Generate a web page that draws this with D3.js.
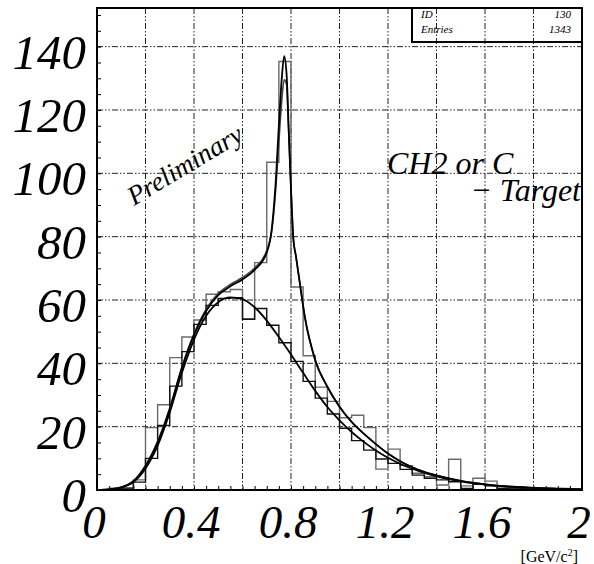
<!DOCTYPE html>
<html><head><meta charset="utf-8">
<script src="https://cdn.jsdelivr.net/npm/d3@7"></script>
<style>body{margin:0;background:#fff}svg{display:block}</style>
</head><body><svg id="c" width="594" height="564"></svg>
<script>
// ---- data ----
const binEdges = [0,0.05,0.1,0.15,0.2,0.25,0.3,0.35,0.4,0.45,0.5,0.55,0.6,0.65,0.7,0.75,0.8,0.85,0.9,0.95,1.0,1.05,1.1,1.15,1.2,1.25,1.3,1.35,1.4,1.45,1.5,1.55,1.6,1.65,1.7,1.75,1.8,1.85,1.9,1.95,2.0];
const grayHist = [0,0.6,0.6,3.2,19.7,26.9,41.8,48.3,53.7,61.8,62.6,63.3,54,71.8,103.5,135.3,64.1,42.4,32.5,28,22.8,23.6,19.7,6.6,12.9,7.7,5.3,4.2,1.6,9.7,1.3,3.7,2.8,0.5,0.3,0.3,0.5,0.3,0.5,0.3];
const blackHist = [0,0.3,0.6,2.5,10,20.4,32.8,43.7,52.3,58.3,60.5,60.7,53.9,57.3,52,46.5,40.6,34.3,29,24,19.5,15.6,12.6,9.8,8.4,6.5,4.7,3.7,3.2,2.6,0.5,1.9,1.3,0.5,0.3,0.3,0.3,0.3,0.3,0.2];

const fitX      = [0,0.05,0.1,0.15,0.2,0.25,0.3,0.35,0.4,0.45,0.5,0.55,0.6,0.65,0.7,0.72,0.735,0.75,0.762,0.772,0.782,0.79,0.8,0.81,0.82,0.837,0.857,0.9,0.95,1.0,1.05,1.1,1.15,1.2,1.25,1.3,1.35,1.4,1.5,1.6,1.7,1.8,1.9,2.0];
const fitTotal  = [0,0.2,0.8,2.7,7.5,15,25.5,38.5,49,56.5,61.5,64.3,66.5,69.5,75,82,95,115,130,137,131,115,95,79,74,65,54.7,41,32.6,26.3,21.5,17.8,14.5,11.5,9.1,7.2,5.7,4.6,2.9,1.8,1.1,0.7,0.4,0.2];
const fitTotal2 = [0,0.2,0.9,2.9,7.8,15.4,25.9,38.8,49.3,57.1,62.1,64.9,67.1,70.1,75.6,81.5,93,110,123,129.5,128,114,95,79,74,65,54.7,41,32.6,26.3,21.5,17.8,14.5,11.5,9.1,7.2,5.7,4.6,2.9,1.8,1.1,0.7,0.4,0.2];
const bgX   = [0,0.05,0.1,0.15,0.2,0.25,0.3,0.35,0.4,0.45,0.5,0.55,0.6,0.65,0.7,0.75,0.8,0.85,0.9,0.95,1.0,1.05,1.1,1.15,1.2,1.25,1.3,1.35,1.4,1.45,1.5,1.55,1.6,1.65,1.7,1.75,1.8,1.85,1.9,1.95,2.0];
const fitBg = [0,0.2,0.8,2.5,6.8,14,24.5,37,47.5,55,59.3,60.8,60.3,57.7,53.5,48.3,42.8,37,31.3,26.2,22,18.3,15.2,12.5,10.2,8.3,6.7,5.4,4.3,3.4,2.7,2.1,1.7,1.3,1.0,0.8,0.6,0.45,0.35,0.25,0.2];

const xTickValues = [0,0.4,0.8,1.2,1.6,2];
const xTickLabels = ["0","0.4","0.8","1.2","1.6","2"];
const yTickValues = [0,20,40,60,80,100,120,140];
const yTickLabels = ["0","20","40","60","80","100","120","140"];
const xGrid = [0.2,0.4,0.6,0.8,1.0,1.2,1.4,1.6,1.8];
const yGrid = [20,40,60,80,100,120,140];
const statsNames = ["ID","Entries"];
const statsValues = ["130","1343"];

// ---- layout ----
const L = 97, R = 582, T = 8, B = 490;
const x = d3.scaleLinear().domain([0,2]).range([L,R]);
const y = d3.scaleLinear().domain([0,152.2]).range([B,T]);
const svg = d3.select("#c");
const serif = "'Liberation Serif','Times New Roman',serif";

svg.append("defs").append("clipPath").attr("id","clip")
  .append("rect").attr("x",L).attr("y",T).attr("width",R-L).attr("height",B-T);

// grid
const gridDash = "6,2,1.5,2,1.5,2";
svg.append("g").selectAll("line").data(xGrid).join("line")
  .attr("x1",d=>x(d)).attr("x2",d=>x(d)).attr("y1",T).attr("y2",B)
  .attr("stroke","#222").attr("stroke-width",1).attr("stroke-dasharray",gridDash);
svg.append("g").selectAll("line").data(yGrid).join("line")
  .attr("x1",L).attr("x2",R).attr("y1",d=>y(d)).attr("y2",d=>y(d))
  .attr("stroke","#222").attr("stroke-width",1).attr("stroke-dasharray",gridDash);

// axes ticks (inside)
const yAxis = d3.axisLeft(y).tickValues(d3.range(0,152,5)).tickSize(-4).tickFormat("");
const gy = svg.append("g").attr("transform",`translate(${L},0)`).call(yAxis);
gy.select(".domain").remove();
gy.selectAll(".tick line").attr("stroke","#000").attr("stroke-width",1);
const xAxis = d3.axisBottom(x).tickValues(d3.range(0,2.001,0.05)).tickSize(-4).tickFormat("");
const gx = svg.append("g").attr("transform",`translate(0,${B})`).call(xAxis);
gx.select(".domain").remove();
gx.selectAll(".tick line").attr("stroke","#000").attr("stroke-width",1);

// histograms
function histPoints(vals){
  const pts = [[binEdges[0],0]];
  vals.forEach((v,i)=>{ pts.push([binEdges[i],v]); pts.push([binEdges[i+1],v]); });
  pts.push([binEdges[binEdges.length-1],0]);
  return pts;
}
const lineH = d3.line().x(d=>x(d[0])).y(d=>y(d[1]));
const plot = svg.append("g").attr("clip-path","url(#clip)");
plot.append("path").attr("d",lineH(histPoints(grayHist)))
  .attr("fill","none").attr("stroke","#6a6a6a").attr("stroke-width",1.4);
plot.append("path").attr("d",lineH(histPoints(blackHist)))
  .attr("fill","none").attr("stroke","#111").attr("stroke-width",1.4);

// fits
const lineC = d3.line().x(d=>x(d[0])).y(d=>y(d[1])).curve(d3.curveMonotoneX);
plot.append("path").attr("d",lineC(bgX.map((v,i)=>[v,fitBg[i]])))
  .attr("fill","none").attr("stroke","#000").attr("stroke-width",1.8);
plot.append("path").attr("d",lineC(fitX.map((v,i)=>[v,fitTotal2[i]])))
  .attr("fill","none").attr("stroke","#444").attr("stroke-width",1.6);
plot.append("path").attr("d",lineC(fitX.map((v,i)=>[v,fitTotal[i]])))
  .attr("fill","none").attr("stroke","#000").attr("stroke-width",1.8);

// frame
svg.append("rect").attr("x",L).attr("y",T).attr("width",R-L).attr("height",B-T)
  .attr("fill","none").attr("stroke","#000").attr("stroke-width",2);

// tick labels
svg.append("g").selectAll("text").data(yTickValues).join("text")
  .attr("x",86).attr("y",d=>y(d)+22).attr("text-anchor","end")
  .attr("font-family",serif).attr("font-style","italic").attr("font-size",49)
  .text((d,i)=>yTickLabels[i]);
svg.append("g").selectAll("text").data(xTickValues).join("text")
  .attr("x",d=>x(d)-3).attr("y",538).attr("text-anchor","middle")
  .attr("font-family",serif).attr("font-style","italic").attr("font-size",47)
  .text((d,i)=>xTickLabels[i]);

// unit
const unit = svg.append("text").attr("x",578).attr("y",562).attr("text-anchor","end")
  .attr("font-family",serif).attr("font-size",16);
unit.append("tspan").text("[GeV/c");
unit.append("tspan").attr("font-size",10).attr("dy",-6).text("2");
unit.append("tspan").attr("dy",6).text("]");

// stats box
svg.append("rect").attr("x",412).attr("y",T).attr("width",R-412).attr("height",34)
  .attr("fill","none").attr("stroke","#000").attr("stroke-width",2);
statsNames.forEach((n,i)=>{
  svg.append("text").attr("x",421).attr("y",18+i*15).attr("font-family",serif)
    .attr("font-style","italic").attr("font-size",11).text(n);
  svg.append("text").attr("x",571).attr("y",18+i*15).attr("text-anchor","end").attr("font-family",serif)
    .attr("font-style","italic").attr("font-size",11).text(statsValues[i]);
});

// annotations
svg.append("text").attr("x",387).attr("y",174).attr("font-family",serif)
  .attr("font-style","italic").attr("font-size",32).text("CH2 or C");
svg.append("text").attr("x",581).attr("y",201).attr("text-anchor","end").attr("font-family",serif)
  .attr("font-style","italic").attr("font-size",32).text("− Target");
svg.append("text").attr("transform","translate(134,206) rotate(-31)")
  .attr("font-family",serif).attr("font-style","italic").attr("font-size",27).text("Preliminary");
</script></body></html>
